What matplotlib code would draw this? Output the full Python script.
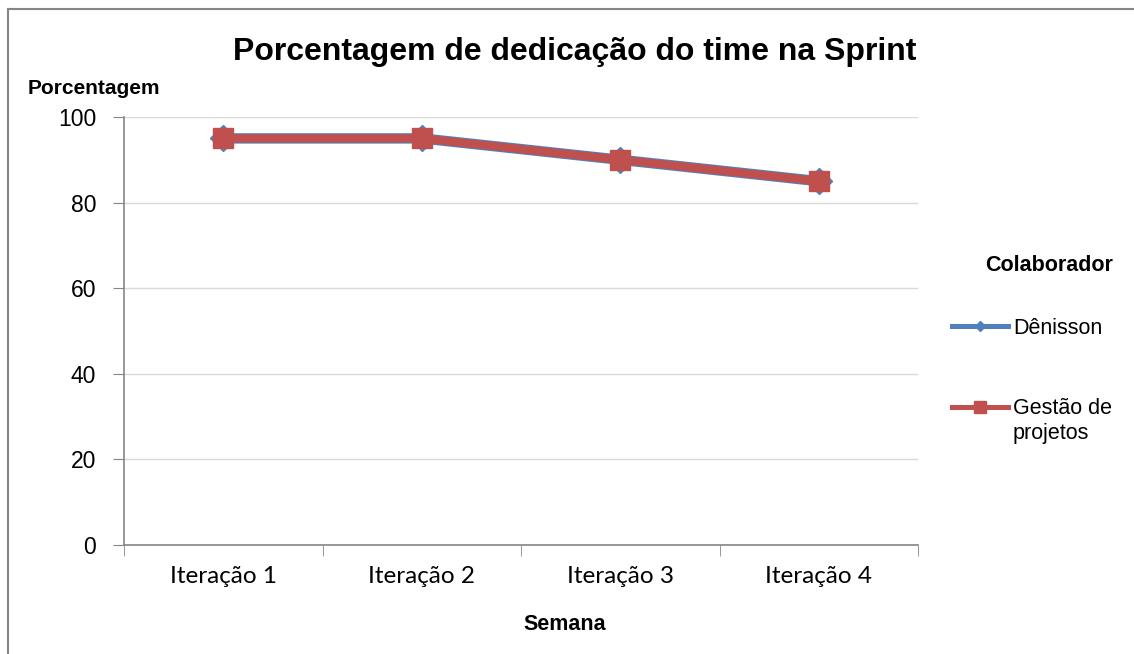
import numpy as np
import matplotlib as mpl
mpl.use('Agg')
import matplotlib.pyplot as plt
from matplotlib.lines import Line2D

categorias = ['Iteração 1', 'Iteração 2', 'Iteração 3', 'Iteração 4']
denisson = [95, 95, 90, 85]
gestao = [95, 95, 90, 85]
yticks = [0, 20, 40, 60, 80, 100]

azul = '#4F81BD'
vermelho = '#C0504D'
cinza = '#868686'
W, H = 1134, 654

fig = plt.figure(figsize=(11.34, 6.54), dpi=100)
ax = fig.add_axes([124/W, 1 - 545/H, (918-124)/W, (545-117)/H])

# moldura do grafico (so topo e esquerda aparecem)
fig.add_artist(Line2D([8/W, 8/W], [0, 1 - 9/H], color=cinza, lw=1.5))
fig.add_artist(Line2D([8/W, 1], [1 - 9/H, 1 - 9/H], color=cinza, lw=1.5))

x = np.arange(len(categorias))
ax.plot(x, denisson, color=azul, lw=7.5, marker='D', ms=13, mec=azul, mfc=azul,
        label='Dênisson', zorder=3)
ax.plot(x, gestao, color=vermelho, lw=6, marker='s', ms=15, mec=vermelho, mfc=vermelho,
        label='Gestão de', zorder=4)

ax.set_xlim(-0.5, 3.5)
ax.set_ylim(0, 100)
ax.set_yticks(yticks)
ax.set_xticks(x)
ax.set_xticklabels(categorias, family='Lato', fontsize=17.5)
ax.set_xticks(np.arange(-0.5, 4, 1), minor=True)
ax.tick_params(axis='x', which='major', length=0, pad=15)
ax.tick_params(axis='x', which='minor', length=8, color=cinza, direction='out')
ax.tick_params(axis='y', length=8, color=cinza, direction='out', labelsize=16.5, pad=12)
for lab in ax.get_yticklabels():
    lab.set_family('Liberation Sans')

ax.grid(axis='y', color='#D9D9D9', lw=1)
ax.set_axisbelow(True)
for s in ['top', 'right']:
    ax.spines[s].set_visible(False)
ax.spines['left'].set_color(cinza)
ax.spines['bottom'].set_color(cinza)
ax.spines['left'].set_linewidth(1.2)
ax.spines['bottom'].set_linewidth(1.2)

fig.text(575/W, 1 - 52/H, 'Porcentagem de dedicação do time na Sprint',
         family='Liberation Sans', weight='bold', fontsize=23, ha='center', va='center')
fig.text(28/W, 1 - 88/H, 'Porcentagem', family='Liberation Sans', weight='bold',
         fontsize=15, ha='left', va='center')
fig.text(565/W, 1 - 624/H, 'Semana', family='Liberation Sans', weight='bold',
         fontsize=15.5, ha='center', va='center')
fig.text(1049/W, 1 - 266/H, 'Colaborador', family='Liberation Sans', weight='bold',
         fontsize=15.5, ha='center', va='center')

leg = fig.legend(loc='upper left', bbox_to_anchor=(952/W, 1 - 318/H), frameon=False,
                 prop={'family': 'Liberation Sans', 'size': 15.5}, handlelength=2.6,
                 handletextpad=0.23, labelspacing=2.75, borderpad=0, borderaxespad=0)
for h in leg.legend_handles:
    h.set_linewidth(3.6)
for h, ms in zip(leg.legend_handles, [5, 9]):
    h.set_markersize(ms)
# segunda linha do rotulo "Gestão de projetos"
fig.text(1013/W, 1 - 433/H, 'projetos', family='Liberation Sans',
         fontsize=15.5, ha='left', va='center')

plt.savefig('out.png', dpi=100)
print('Created out.png')
